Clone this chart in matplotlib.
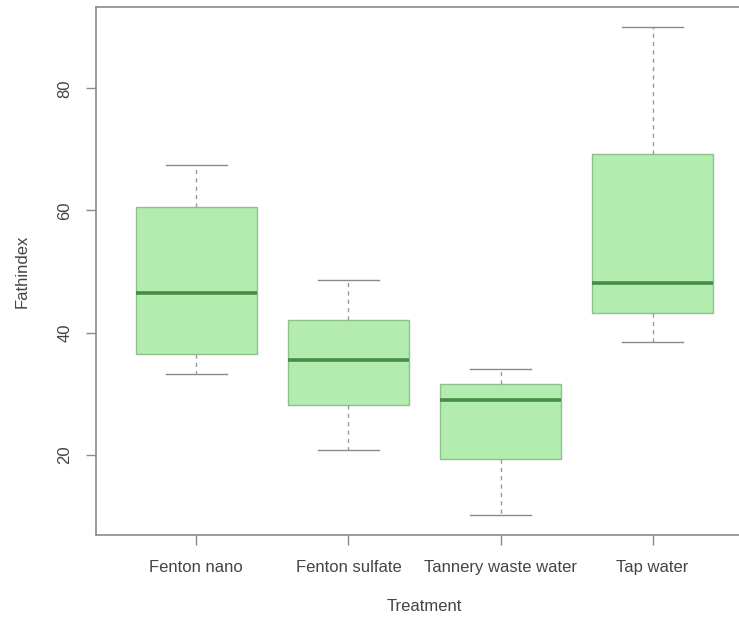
import matplotlib
matplotlib.use("Agg")
import matplotlib.pyplot as plt

# five-number summaries per treatment
treatments = ["Fenton nano", "Fenton sulfate", "Tannery waste water", "Tap water"]
whisker_low = [33.3, 20.8, 10.2, 38.5]
q1 = [36.5, 28.1, 19.4, 43.3]
median = [46.5, 35.6, 29.0, 48.2]
q3 = [60.5, 42.1, 31.6, 69.2]
whisker_high = [67.4, 48.7, 34.1, 90.0]

plt.rcParams['font.family'] = ['Liberation Sans', 'DejaVu Sans']
text_col = '#444444'
frame_col = '#8a8a8a'

fig = plt.figure(figsize=(7.39, 6.19), dpi=100)
# right edge of the frame runs past the canvas
ax = fig.add_axes([96 / 739, 1 - 535 / 619, 657 / 739, 528 / 619])

stats = []
for name, lo, a, m, b, hi in zip(treatments, whisker_low, q1, median, q3, whisker_high):
    stats.append({'label': name, 'whislo': lo, 'q1': a, 'med': m, 'q3': b, 'whishi': hi, 'fliers': []})

ax.bxp(stats, positions=[1, 2, 3, 4], widths=0.8, patch_artist=True, showfliers=False,
       boxprops=dict(facecolor='#b2ecaf', edgecolor='#8fbf8c', linewidth=1.0),
       medianprops=dict(color='#458c45', linewidth=2.6),
       whiskerprops=dict(color='#9a9a9a', linewidth=1, linestyle=(0, (3, 3))),
       capprops=dict(color='#8a8a8a', linewidth=1),
       capwidths=0.4)

ax.set_xlim(0.34, 4.66)
ax.set_ylim(6.9, 93.3)
ax.set_yticks([20, 40, 60, 80])
ax.set_yticklabels(['20', '40', '60', '80'], rotation=90, va='center')
ax.set_xticks([1, 2, 3, 4])
ax.set_xticklabels(treatments)

ax.tick_params(axis='both', direction='out', length=7, width=1, color=frame_col,
               labelcolor=text_col, labelsize=12)
ax.tick_params(axis='x', pad=11)
ax.tick_params(axis='y', pad=10)

for spine in ax.spines.values():
    spine.set_color(frame_col)
    spine.set_linewidth(1.2)

ax.set_xlabel('Treatment', color=text_col, fontsize=12, labelpad=17)
ax.set_ylabel('Fathindex', color=text_col, fontsize=12, labelpad=20)

fig.savefig('out.png', dpi=100)
